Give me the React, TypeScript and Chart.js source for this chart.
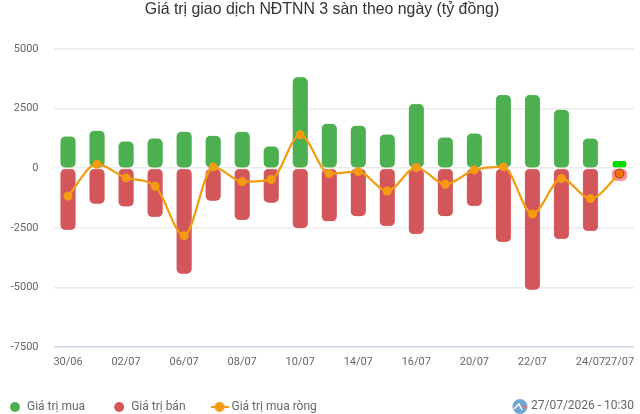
import React, { useEffect, useRef } from "react";
import { Chart, registerables } from "chart.js";

Chart.register(...registerables);

const categories = ["30/06","01/07","02/07","03/07","06/07","07/07","08/07","09/07","10/07","13/07","14/07","15/07","16/07","17/07","20/07","21/07","22/07","23/07","24/07","27/07"];
const buyValues = [1330,1570,1120,1245,1525,1360,1525,910,3810,1860,1780,1415,2690,1290,1455,3065,3065,2450,1245,300];
const sellValues = [-2590,-1485,-1600,-2045,-4425,-1360,-2170,-1440,-2510,-2225,-2015,-2425,-2760,-2015,-1585,-3095,-5095,-2970,-2635,-520];
const netValues = [-1165,170,-405,-755,-2830,55,-560,-475,1400,-225,-140,-955,30,-670,-70,55,-1920,-435,-1275,-225];
const visibleTicks = ["30/06","02/07","06/07","08/07","10/07","14/07","16/07","20/07","22/07","24/07","27/07"];
const seriesNames = ["Giá trị mua", "Giá trị bán", "Giá trị mua ròng"];
const titleText = "Giá trị giao dịch NĐTNN 3 sàn theo ngày (tỷ đồng)";
const stampText = "27/07/2026 - 10:30";

const GREEN = "#4caf50";
const RED = "#d3565a";
const ORANGE = "#f39c12";
const FONT = "Roboto";
const last = categories.length - 1;
const perPoint = (normal: any, lastOne: any) => categories.map((_, i) => (i === last ? lastOne : normal));

function lineMarker() {
  const c = document.createElement("canvas");
  c.width = 18; c.height = 10;
  const g = c.getContext("2d")!;
  g.strokeStyle = ORANGE; g.lineWidth = 2;
  g.beginPath(); g.moveTo(0, 5); g.lineTo(18, 5); g.stroke();
  g.fillStyle = ORANGE;
  g.beginPath(); g.arc(9, 5, 5, 0, Math.PI * 2); g.fill();
  return c;
}

const stampPlugin = {
  id: "stamp",
  afterLayout(chart: any) {
    chart.legend.left = -19;
  },
  afterDraw(chart: any) {
    const g = chart.ctx;
    g.save();
    g.font = `12px ${FONT}`;
    g.fillStyle = "#666666";
    g.textAlign = "right";
    g.textBaseline = "middle";
    g.fillText(stampText, 634, 406);
    g.fillStyle = "#6fa5d6";
    g.beginPath(); g.arc(520, 406.5, 7.5, 0, Math.PI * 2); g.fill();
    g.strokeStyle = "#ffffff"; g.lineWidth = 1.5;
    g.beginPath(); g.moveTo(514, 409); g.lineTo(519, 404); g.lineTo(522, 410); g.stroke();
    g.strokeStyle = "#e8707a";
    g.beginPath(); g.moveTo(521, 405); g.lineTo(527, 408); g.stroke();
    g.restore();
  },
};

export default function App() {
  const ref = useRef<HTMLCanvasElement>(null);
  useEffect(() => {
    const chart = new Chart(ref.current!, {
      type: "bar",
      plugins: [stampPlugin],
      data: {
        labels: categories,
        datasets: [
          {
            type: "line", label: seriesNames[2], data: netValues, order: 0, stack: "net",
            borderColor: ORANGE, borderWidth: 2.2, cubicInterpolationMode: "monotone",
            pointRadius: 4.5, pointBackgroundColor: perPoint(ORANGE, "#f26f0c"),
            pointBorderColor: perPoint(ORANGE, "#7a4a1a"), pointBorderWidth: perPoint(0, 1),
          },
          {
            label: seriesNames[0], data: buyValues, order: 1, stack: "flow",
            backgroundColor: perPoint(GREEN, "#00dc00"), borderColor: perPoint("#8fcf92", "rgba(0,0,0,0)"),
            borderWidth: perPoint(0.5, { left: 1, right: 1, top: 0, bottom: 0 }),
            borderSkipped: false, borderRadius: perPoint(5, 6), barThickness: 15,
          },
          {
            label: seriesNames[1], data: sellValues, order: 1, stack: "flow",
            backgroundColor: perPoint(RED, "#ff8f92"), borderColor: perPoint("#e59a9d", "#ff8f92"),
            borderWidth: 0.5, borderSkipped: false, borderRadius: 5, barThickness: 15,
          },
        ] as any,
      },
      options: {
        animation: false,
        responsive: false,
        layout: { autoPadding: false, padding: { top: 0, left: 10, right: 6, bottom: -9 } },
        scales: {
          x: {
            stacked: true,
            grid: { display: false },
            border: { display: false },
            afterFit: (s: any) => { s.height = 26; },
            ticks: {
              autoSkip: false, maxRotation: 0, minRotation: 0, padding: 1,
              color: "#666666", font: { family: FONT, size: 11 },
              callback(this: any, v: any) {
                const l = this.getLabelForValue(v);
                return visibleTicks.includes(l) ? l : "";
              },
            },
          },
          y: {
            stacked: true, min: -7500, max: 5000,
            afterFit: (s: any) => { s.width = 43.5; },
            border: { display: false },
            grid: {
              drawTicks: false, lineWidth: 1.5,
              color: (c: any) => (c.tick && c.tick.value === -7500 ? "#ccd6eb" : "#ececec"),
            },
            ticks: {
              stepSize: 2500, padding: 15, color: "#666666", font: { family: FONT, size: 11 },
              callback: (v: any) => String(v),
            },
          },
        },
        plugins: {
          title: {
            display: true, text: titleText, color: "#333333",
            font: { family: "Liberation Sans", size: 15.87, weight: "normal" },
            padding: { top: 0, bottom: 30 },
          },
          tooltip: { enabled: false },
          legend: {
            position: "bottom", align: "start",
            labels: {
              usePointStyle: true, boxWidth: 12, boxHeight: 7, padding: 28,
              color: "#666666", font: { family: FONT, size: 12 },
              generateLabels: () =>
                seriesNames.map((text, i) => ({
                  text, fontColor: "#666666", lineWidth: 0,
                  fillStyle: i === 0 ? GREEN : RED, strokeStyle: "transparent",
                  pointStyle: i === 2 ? lineMarker() : "circle", datasetIndex: i,
                })) as any,
            },
          },
        },
      } as any,
    });
    return () => chart.destroy();
  }, []);
  return (
    <div style={{ position: "fixed", left: 0, top: 0, width: 640, height: 414 }}>
      <canvas ref={ref} width={640} height={414} style={{ display: "block" }} />
    </div>
  );
}
